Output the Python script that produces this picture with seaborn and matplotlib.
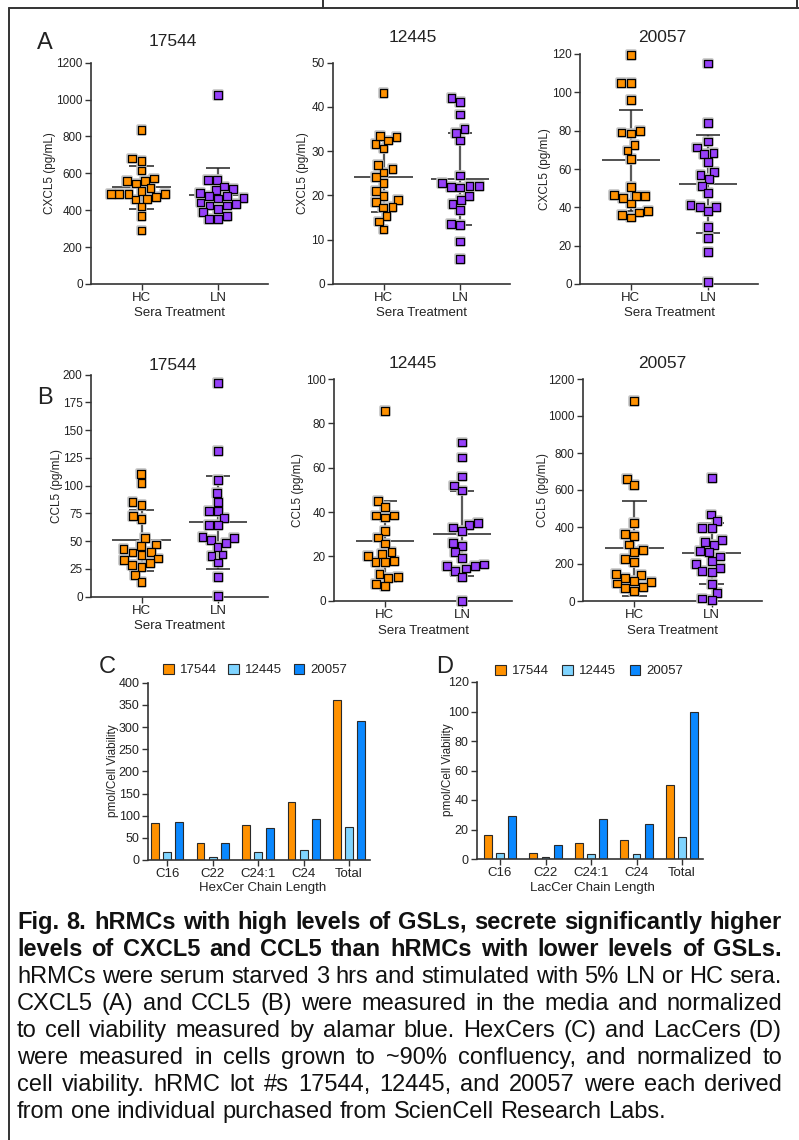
import numpy as np
import pandas as pd
import matplotlib
matplotlib.use("Agg")
import matplotlib.pyplot as plt
import matplotlib.patheffects as pe
from matplotlib.lines import Line2D
from matplotlib import font_manager as fm
import seaborn as sns

# ---------------- data ----------------
groups = ["HC", "LN"]
lots = ["17544", "12445", "20057"]

cxcl5_17544_hc = [835, 680, 668, 615, 572, 560, 560, 545, 520, 505, 490, 490, 490, 490, 470, 460, 458, 420, 370, 290]
cxcl5_17544_ln = [1025, 565, 563, 529, 511, 516, 493, 478, 464, 476, 467, 442, 426, 426, 435, 408, 392, 370, 354, 354]
cxcl5_12445_hc = [43.2, 33.3, 31.7, 32.4, 30.6, 33.5, 26.8, 25.9, 24.1, 25.2, 22.9, 21.1, 19.8, 19.0, 18.6, 17.3, 17.4, 15.4, 14.1, 12.3]
cxcl5_12445_ln = [42.0, 41.2, 38.3, 35.0, 34.2, 32.4, 24.5, 22.8, 21.8, 22.0, 22.2, 22.2, 19.9, 18.9, 18.0, 16.8, 13.4, 13.5, 9.6, 5.6]
cxcl5_20057_hc = [119.3, 105, 105, 95.8, 79.0, 78.5, 79.9, 72.7, 69.6, 65.2, 50.8, 46.0, 46.4, 46.0, 44.7, 42.0, 38.0, 37.3, 35.9, 34.7]
cxcl5_20057_ln = [115.1, 84.2, 74.3, 68.5, 71.2, 68.0, 63.7, 58.6, 56.9, 54.6, 51.3, 47.6, 40.3, 40.3, 41.2, 37.9, 29.8, 24.2, 16.7, 1.2]

ccl5_17544_hc = [110.2, 102.1, 85.0, 82.6, 73.0, 70.3, 53.2, 45.9, 47.1, 42.9, 37.8, 40.2, 39.9, 33.0, 34.5, 28.8, 30.3, 27.0, 19.5, 13.5]
ccl5_17544_ln = [192.2, 131.2, 105.1, 93.7, 85.6, 77.2, 77.2, 70.6, 64.3, 64.6, 54.1, 53.2, 48.6, 51.1, 45.0, 38.1, 36.6, 30.9, 18.0, 0.6]
ccl5_12445_hc = [85.4, 45.0, 42.2, 38.4, 38.4, 37.5, 31.6, 28.5, 25.8, 21.8, 21.2, 20.3, 17.6, 17.8, 17.3, 12.0, 10.4, 10.8, 7.5, 6.6]
ccl5_12445_ln = [71.4, 64.6, 56.0, 52.0, 49.7, 34.9, 34.3, 33.0, 31.6, 26.1, 24.8, 22.0, 19.3, 15.5, 16.3, 15.7, 13.4, 14.5, 10.8, 0.0]
ccl5_20057_hc = [1083, 659, 627, 422, 364, 351, 305, 265, 277, 229, 211, 142, 144, 126, 101, 110, 95, 74, 70, 54]
ccl5_20057_ln = [665, 467, 432, 393, 396, 330, 319, 304, 263, 270, 216, 241, 200, 164, 180, 155, 92, 45, 5, 14]

chain = ["C16", "C22", "C24:1", "C24", "Total"]
hexcer_17544 = [84, 39, 79, 130, 361]
hexcer_12445 = [18.8, 7.5, 17.3, 22.6, 73.7]
hexcer_20057 = [85, 39, 71.4, 92.5, 314]
laccer_17544 = [16.5, 3.8, 10.6, 12.9, 50.2]
laccer_12445 = [4.3, 1.4, 3.6, 3.2, 14.7]
laccer_20057 = [28.9, 9.7, 27.1, 23.7, 99.9]

caption_lines = [
    "Fig. 8. hRMCs with high levels of GSLs, secrete significantly higher",
    "levels of CXCL5 and CCL5 than hRMCs with lower levels of GSLs.",
    "hRMCs were serum starved 3 hrs and stimulated with 5% LN or HC sera.",
    "CXCL5 (A) and CCL5 (B) were measured in the media and normalized",
    "to cell viability measured by alamar blue. HexCers (C) and LacCers (D)",
    "were measured in cells grown to ~90% confluency, and normalized to",
    "cell viability. hRMC lot #s 17544, 12445, and 20057 were each derived",
    "from one individual purchased from ScienCell Research Labs.",
]

# ---------------- style ----------------
W, H = 799, 1140
ORANGE = "#FF9100"
PURPLE = "#9640FA"
LBLUE = "#7FD4FF"
BLUE = "#0A88FF"
TXT = "#222222"

sns.set_theme(style="ticks")
plt.rcParams["font.family"] = ["Liberation Sans", "DejaVu Sans"]
plt.rcParams["axes.edgecolor"] = "#333333"
plt.rcParams["axes.linewidth"] = 1.2

names = {f.name for f in fm.fontManager.ttflist}
CAP_FAMILY = ["Liberation Sans Narrow", "Liberation Sans", "DejaVu Sans"] if "Liberation Sans Narrow" in names else ["Liberation Sans", "DejaVu Sans"]

fig = plt.figure(figsize=(W / 100, H / 100), dpi=100)
fig.patch.set_facecolor("white")


def add_ax(l, t, r, b):
    return fig.add_axes([l / W, 1 - b / H, (r - l) / W, (b - t) / H])


def ftext(x, y, s, **kw):
    kw.setdefault("ha", "center")
    kw.setdefault("va", "center")
    kw.setdefault("color", TXT)
    return fig.text(x / W, 1 - y / H, s, **kw)


def fline(x0, y0, x1, y1):
    fig.add_artist(Line2D([x0 / W, x1 / W], [1 - y0 / H, 1 - y1 / H],
                          transform=fig.transFigure, color="#333333", lw=1.4))


def style_axis(ax, xfs, yfs):
    sns.despine(ax=ax)
    ax.tick_params(axis="both", direction="out", length=4, width=1.0,
                   color="#333333", labelcolor=TXT, pad=2)
    ax.tick_params(axis="x", labelsize=xfs)
    ax.tick_params(axis="y", labelsize=yfs)
    ax.set_xlabel("")
    ax.set_ylabel("")
    ax.set_facecolor("none")


def scatter_panel(box, hc, ln, ymax, ystep):
    l, t, r, b = box
    ax = add_ax(l, t, r, b)
    df = pd.DataFrame({"group": ["HC"] * len(hc) + ["LN"] * len(ln),
                       "value": list(hc) + list(ln)})
    for i, vals in enumerate([hc, ln]):
        m = np.mean(vals)
        s = np.std(vals, ddof=1)
        ax.vlines(i, m - s, m + s, color="#5a5a5a", lw=1.6, zorder=2)
        ax.hlines([m - s, m + s], i - 0.16, i + 0.16, color="#222222", lw=1.1, zorder=2)
        ax.hlines(m, i - 0.38, i + 0.38, color="#222222", lw=1.1, zorder=2)
    sns.swarmplot(data=df, x="group", y="value", hue="group", order=groups,
                  hue_order=groups, palette={"HC": ORANGE, "LN": PURPLE},
                  marker="s", size=5.6, edgecolor="black", linewidth=0.9,
                  legend=False, ax=ax, zorder=3, clip_on=False)
    for c in ax.collections:
        if c.get_zorder() == 3:
            c.set_path_effects([pe.Stroke(linewidth=2.6, foreground="#c4c4c4"), pe.Normal()])
    ax.set_xlim(-0.66, 1.65)
    ax.set_ylim(0, ymax)
    ax.set_yticks(np.arange(0, ymax + ystep / 2, ystep))
    style_axis(ax, 9.5, 8.5)
    return ax


def bar_panel(box, vals, xlim, ymax, ystep):
    l, t, r, b = box
    ax = add_ax(l, t, r, b)
    df = pd.DataFrame({"chain": chain * 3,
                       "lot": sum([[lot] * len(chain) for lot in lots], []),
                       "value": sum([list(v) for v in vals], [])})
    sns.barplot(data=df, x="chain", y="value", hue="lot", order=chain,
                hue_order=lots, palette=[ORANGE, LBLUE, BLUE], width=0.8,
                gap=0.35, edgecolor="#2a2a2a", linewidth=0.8, errorbar=None,
                saturation=1, ax=ax)
    ax.set_xlim(*xlim)
    ax.set_ylim(0, ymax)
    ax.set_yticks(np.arange(0, ymax + ystep / 2, ystep))
    style_axis(ax, 9.5, 9)
    handles, labels = ax.get_legend_handles_labels()
    if ax.get_legend() is not None:
        ax.get_legend().remove()
    return ax, handles, labels


# ---------------- panel A (CXCL5) ----------------
boxA = [(91, 62.7, 268, 284), (333, 62.7, 510, 284), (580, 54, 758, 284)]
dataA = [(cxcl5_17544_hc, cxcl5_17544_ln, 1200, 200),
         (cxcl5_12445_hc, cxcl5_12445_ln, 50, 10),
         (cxcl5_20057_hc, cxcl5_20057_ln, 120, 20)]
titleA = [(173, 41), (413, 37), (662, 38)]
ylabA = [50, 303, 545]
for box, d, tpos, yl, lot in zip(boxA, dataA, titleA, ylabA, lots):
    scatter_panel(box, *d)
    ftext(tpos[0], tpos[1], lot, fontsize=12.5)
    ftext(yl, (box[1] + box[3]) / 2, "CXCL5 (pg/mL)", rotation=90, fontsize=8.5)
    ftext((box[0] + box[2]) / 2, 313, "Sera Treatment", fontsize=9.5)
ftext(45, 43, "A", fontsize=17)

# ---------------- panel B (CCL5) ----------------
boxB = [(91, 374.7, 268, 596.7), (334, 379, 512, 600.7), (583, 379, 762, 601)]
dataB = [(ccl5_17544_hc, ccl5_17544_ln, 200, 25),
         (ccl5_12445_hc, ccl5_12445_ln, 100, 20),
         (ccl5_20057_hc, ccl5_20057_ln, 1200, 200)]
titleB = [(173, 365), (413, 364), (662, 363)]
ylabB = [57, 298, 543]
xlabB = [626, 631, 631]
for box, d, tpos, yl, xy, lot in zip(boxB, dataB, titleB, ylabB, xlabB, lots):
    scatter_panel(box, *d)
    ftext(tpos[0], tpos[1], lot, fontsize=12.5)
    ftext(yl, (box[1] + box[3]) / 2, "CCL5 (pg/mL)", rotation=90, fontsize=8.5)
    ftext((box[0] + box[2]) / 2, xy, "Sera Treatment", fontsize=9.5)
ftext(45, 398, "B", fontsize=17)

# ---------------- panels C and D (bars) ----------------
axC, hC, lC = bar_panel((148, 682.7, 370, 860),
                        [hexcer_17544, hexcer_12445, hexcer_20057],
                        (-0.42, 4.46), 400, 50)
axD, hD, lD = bar_panel((477, 682, 703, 859),
                        [laccer_17544, laccer_12445, laccer_20057],
                        (-0.505, 4.46), 120, 20)
for ax, h, lab, anchor, cs in [(axC, hC, lC, (163, 670), 0.9), (axD, hD, lD, (495, 671), 1.05)]:
    leg = fig.legend(h, lab, ncol=3, frameon=False, loc="center left",
                     bbox_to_anchor=(anchor[0] / W, 1 - anchor[1] / H),
                     bbox_transform=fig.transFigure, fontsize=9.5,
                     handlelength=0.8, handleheight=0.8, handletextpad=0.45,
                     columnspacing=cs, borderpad=0, borderaxespad=0)
    for t in leg.get_texts():
        t.set_color(TXT)
ftext(107, 667, "C", fontsize=17)
ftext(445, 667, "D", fontsize=17)
ftext(113, 771, "pmol/Cell Viability", rotation=90, fontsize=8.5)
ftext(448, 770, "pmol/Cell Viability", rotation=90, fontsize=8.5)
ftext(263, 888, "HexCer Chain Length", fontsize=9.5)
ftext(592, 888, "LacCer Chain Length", fontsize=9.5)

# ---------------- frame ----------------
fline(9, 8, 9, 1140)
fline(9, 8, 799, 8)
fline(323, 0, 323, 8)
fline(797, 0, 797, 8)

# ---------------- caption (justified) ----------------
renderer = fig.canvas.get_renderer()
CAP_FS = 17
X0, X1 = 17, 782
base0, dy = 929, 27
for i, line in enumerate(caption_lines):
    bold = i < 2
    justify = i < len(caption_lines) - 1
    kw = dict(fontsize=CAP_FS, fontweight="bold" if bold else "normal",
              family=CAP_FAMILY, color="#111111", ha="left", va="baseline")
    yb = base0 + i * dy
    words = line.split(" ")
    txts = [fig.text(0, 1 - yb / H, w, **kw) for w in words]
    widths = [t.get_window_extent(renderer).width for t in txts]
    a1 = fig.text(0, 0, "a a", **kw)
    a2 = fig.text(0, 0, "aa", **kw)
    space = a1.get_window_extent(renderer).width - a2.get_window_extent(renderer).width
    a1.remove()
    a2.remove()
    if justify:
        gap = (X1 - X0 - sum(widths)) / (len(words) - 1)
    else:
        gap = space
    x = X0
    for t, w in zip(txts, widths):
        t.set_x(x / W)
        x += w + gap

fig.savefig("out.png", dpi=100, facecolor="white")
